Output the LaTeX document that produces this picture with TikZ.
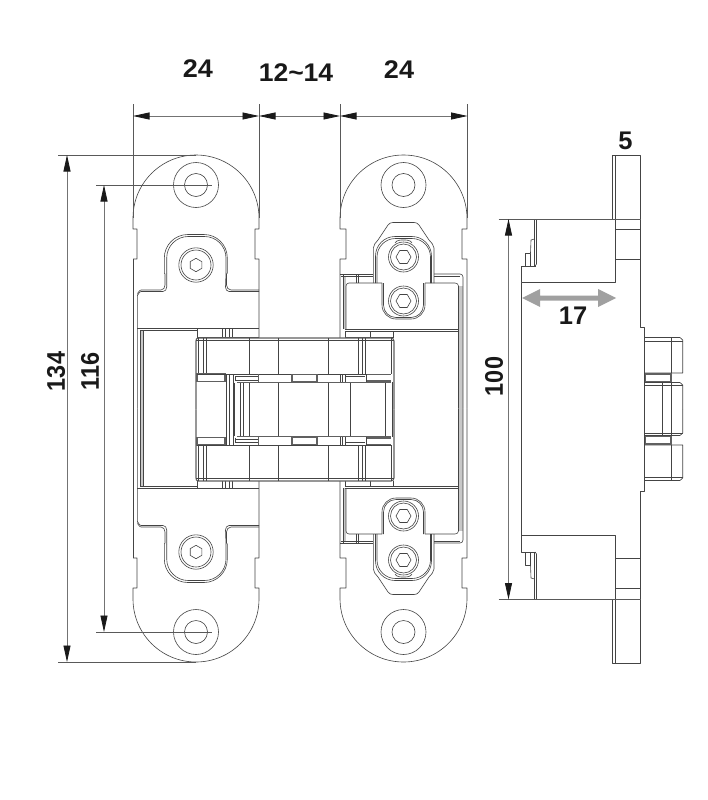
\documentclass[tikz,border=0pt]{standalone}
\usepackage{fontspec}
\setmainfont{Liberation Sans}
\usetikzlibrary{arrows.meta}
\definecolor{ink}{HTML}{444444}
\definecolor{arrowgray}{HTML}{A0A0A0}
\definecolor{strip}{HTML}{C8C8C8}
\tikzset{
  ln/.style={draw=ink,line width=0.6pt,line join=round},
  heavy/.style={draw=ink!85,line width=1.1pt},
  dimline/.style={draw=black!55,line width=0.8pt,{Triangle[length=16.5pt,width=7pt,color=black!90]}-{Triangle[length=16.5pt,width=7pt,color=black!90]}},
  ext/.style={draw=black!65,line width=0.7pt},
  dimtext/.style={font=\fontsize{25.5}{26}\selectfont\bfseries,text=black!90,inner sep=0pt},
  up/.style={x radius=#1,y radius=-#1}
}
% half of left plate (upper)
\newcommand{\leftHalf}{%
  \fill[strip] (140,330.5) rectangle (143,408.5);
  \draw[ln] (133,259) -- (133,408.5);
  \draw[ln] (133,259) -- (137,259) -- (137,229) -- (133,229) -- (133,218)
     arc[start angle=180,end angle=0,up=63] -- (259,229) -- (255,229) -- (255,259) -- (259,259) -- (259,338);
  \draw[ln] (196,185) circle[radius=22.5];
  \draw[ln] (196,185) circle[radius=11.5];
  \draw[ln] (164.3,273) -- (164.3,258) arc[start angle=180,end angle=90,up=23.5] -- (204,234.5) arc[start angle=90,end angle=0,up=23.3] -- (227.3,273);
  \draw[ln] (166.7,273) -- (166.7,258) arc[start angle=180,end angle=90,up=21.5] -- (204.5,236.5) arc[start angle=90,end angle=0,up=21.5] -- (226,273);
  \draw[ln] (164.3,273) -- (165,274) -- (165,285) to[out=-90,in=0] (161,290) -- (141,290);
  \draw[ln] (166.7,273) -- (166.7,287) to[out=-90,in=0] (163,291.5) -- (141,291.5) to[out=180,in=-90] (137.3,295) -- (137.3,408.5);
  \draw[ln] (141,290) to[out=180,in=-90] (137.3,293);
  \draw[ln] (227.3,273) -- (226.5,274) -- (226.5,285) to[out=-90,in=180] (231,290) -- (259,290);
  \draw[ln] (226,273) -- (225.5,287) to[out=-90,in=180] (229,291.5) -- (259,291.5);
  \draw[ln] (196,265) circle[radius=17.2];
  \draw[ln] (196,265) circle[radius=15];
  \draw[ln,shift={(196,265)}] (90:6.7) -- (150:6.7) -- (210:6.7) -- (270:6.7) -- (330:6.7) -- (30:6.7) -- cycle;
  \draw[ln] (137.3,328.5) -- (259,328.5);
  \draw[ln] (140,330.5) -- (197,330.5);
  \draw[ln] (143,330.5) -- (143,408.5);
  \draw[ln] (140,330.5) -- (140,408.5);
  \draw[ln] (197,329) -- (197,338);
  \draw[ln] (197,337) -- (259,337);
  \draw[ln] (222,329) -- (222,337);
  \draw[ln] (225.5,329) -- (225.5,337);
  \draw[ln] (229,329) -- (229,337);
  \draw[ln] (232,329) -- (232,337);
}
% half of right plate (upper)
\newcommand{\rightHalf}{%
  \fill[strip] (459,286) rectangle (463,408.5);
  \fill[strip] (343,276) rectangle (346,329);
  \draw[ln] (340,338) -- (340,259) -- (346,259) -- (346,229) -- (340,229) -- (340,218.5)
    arc[start angle=180,end angle=0,up=63.5] -- (467,229) -- (462,229) -- (462,259) -- (467,259) -- (467,408.5);
  \draw[ln] (403.5,185) circle[radius=22.5];
  \draw[ln] (403.5,185) circle[radius=11.5];
  % frame
  \draw[ln] (340,274) -- (373,274);
  \draw[ln] (434,274) -- (460,274) to[out=0,in=90] (463,277) -- (463,408.5);
  \draw[ln] (341,276) -- (373,276);
  \draw[ln] (434,276) -- (460,276);
  \draw[ln] (346,329) -- (346,286) to[out=90,in=180] (349,283) -- (382,283);
  \draw[ln] (425,283) -- (455,283) to[out=0,in=90] (458.5,286) -- (458.5,408.5);
  \draw[ln] (343,274) -- (343,329);
  \draw[ln] (356,274) -- (356,283);
  \draw[ln] (358.5,274) -- (358.5,283);
  \draw[ln] (345,329) -- (458,329);
  \draw[ln] (345,331) -- (458,331);
  \draw[ln] (345,331) -- (345,338);
  \draw[ln] (370,331) -- (370,338);
  \draw[ln] (345,337) -- (393,337);
  \draw[ln] (393,331) -- (393,338);
  % slotted cover
  \draw[ln] (373.3,283) -- (373.3,248) to[out=90,in=-125] (378,240) -- (388,225) to[out=55,in=180] (393,222.5) -- (414,222.5) to[out=0,in=125] (419,225) -- (429,240) to[out=-55,in=90] (434,248) -- (434,283);
  \draw[ln] (375.5,283) -- (375.5,256) arc[start angle=180,end angle=90,up=19.5] -- (412,236.5) arc[start angle=90,end angle=0,up=19.5] -- (431.5,283);
  \draw[ln] (377,283) -- (377,257) arc[start angle=180,end angle=90,up=18.5] -- (412,238.5) arc[start angle=90,end angle=0,up=18.5] -- (430.5,283);
  \draw[ln] (382,283) -- (382,305) arc[start angle=180,end angle=270,up=14] -- (411,319) arc[start angle=270,end angle=360,up=14] -- (425,283);
  \draw[ln] (383.5,283) -- (383.5,305) arc[start angle=180,end angle=270,up=12.5] -- (411,317.5) arc[start angle=270,end angle=360,up=12.5] -- (423.5,283);
  % screws
  \foreach \sy in {257,301}{
    \draw[ln,fill=white] (403.5,\sy) circle[radius=15];
    \draw[ln] (403.5,\sy) circle[radius=13];
    \draw[ln,shift={(403.5,\sy)}] (0:7.5) -- (60:7.5) -- (120:7.5) -- (180:7.5) -- (240:7.5) -- (300:7.5) -- cycle;
  }
  \draw[ln] (395,243) to[out=60,in=180] (403.5,240) to[out=0,in=120] (412,243);
}
% half of central mechanism (upper), mirrored about y=409.5
\newcommand{\mechHalf}{%
  \draw[heavy] (198,338) -- (391,338) to[out=0,in=90] (394,341) -- (394,409.5);
  \draw[heavy] (198,338) to[out=180,in=90] (196,341) -- (196,409.5);
  \draw[ln] (196,340.5) -- (394,340.5);
  \foreach \vx in {198,203,206,249,278,328,358,362,365}{\draw[ln] (\vx,338) -- (\vx,374);}
  \draw[ln] (391,338) -- (391,374);
  % row under the top band
  \draw[heavy] (197,374) rectangle (225,381.5);
  \draw[ln] (197,374) -- (391,374);
  \draw[ln] (226,374) -- (226,409.5);
  \draw[ln] (233,374) -- (233,409.5);
  \draw[ln] (229,374) -- (229,409.5);
  \draw[ln] (235,381) -- (235,376);
  \draw[ln] (235,376.5) -- (258,376.5);
  \draw[heavy] (258.5,374) -- (258.5,382);
  \draw[ln] (235,380) -- (258,380);
  \draw[heavy] (292,374.5) rectangle (317,381.5);
  \draw[ln] (340,374) -- (340,382);
  \draw[ln] (342,374) -- (342,382);
  \draw[ln] (345,374) -- (345,382);
  \draw[ln] (345,376.5) -- (365,376.5);
  \draw[heavy] (366,374.5) -- (391,374.5);
  \draw[heavy] (366,381) -- (391,381);
  \draw[ln] (366,374) -- (366,382);
  % centre block
  \draw[heavy] (237,382.5) -- (391,382.5);
  \draw[ln] (234,383) -- (234,409.5);
  \draw[ln] (392,382) -- (392,409.5);
  \foreach \vx in {240,243,249,278,328,350,385}{\draw[ln] (\vx,383) -- (\vx,409.5);}
}
% half of side view (upper)
\newcommand{\sideHalf}{%
  \draw[ln] (612.5,219) -- (612.5,155) -- (640.5,155) -- (640.5,327) -- (644.5,327) -- (644.5,337);
  \draw[ln] (615,155) -- (615,219);
  \draw[ln] (615,219) -- (615,282.5) -- (521.5,282.5) -- (521.5,266) -- (536,266);
  \draw[ln] (534.5,219) -- (534.5,266);
  \draw[ln] (536.5,219) -- (536.5,264) -- (535,266);
  \draw[ln] (525.5,265.5) -- (525.5,253) -- (530.5,253) -- (530.5,265.5);
  \draw[ln] (530.5,253) -- (531,240) -- (534.5,239);
  \draw[ln] (521.5,282.5) -- (521.5,409);
  \draw[ln] (615,229.5) -- (640.5,229.5);
  \draw[ln] (615,259.5) -- (640.5,259.5);
  \draw[ln] (644.5,337) -- (644.5,409);
  \draw[ln] (644.5,337.5) -- (680,337.5) -- (682.7,340) -- (682.7,373) -- (644.5,373);
  \draw[ln] (644.5,341) -- (682.7,341);
  \draw[ln] (671,337.5) -- (671,373);
  \draw[heavy] (645.5,374) rectangle (671,381.5);
  \draw[ln] (644.5,382.5) -- (680,382.5) -- (682.7,385) -- (682.7,409);
  \draw[ln] (644.5,385) -- (682.7,385);
  \draw[ln] (662,382.5) -- (662,409);
  \draw[ln] (671,382.5) -- (671,409);
}
\begin{document}
\begin{tikzpicture}[x=1pt,y=-1pt]
\useasboundingbox (0,0) rectangle (707,800);
\fill[white] (0,0) rectangle (707,800);
% left plate
\leftHalf
\begin{scope}[cm={1,0,0,-1,(0,817)}]\leftHalf\end{scope}
% right plate
\rightHalf
\begin{scope}[cm={1,0,0,-1,(0,817)}]\rightHalf\end{scope}
% mechanism
\fill[white] (196,338) rectangle (394,481);
\mechHalf
\begin{scope}[cm={1,0,0,-1,(0,819)}]\mechHalf\end{scope}
% side view
\sideHalf
\begin{scope}[cm={1,0,0,-1,(0,818)}]\sideHalf\end{scope}
% dimension anchors
\coordinate (wA) at (133,116);
\coordinate (wB) at (259,116);
\coordinate (wC) at (340,116);
\coordinate (wD) at (467.5,116);
\coordinate (wAt) at (133,104);
\coordinate (wBt) at (259,104);
\coordinate (wCt) at (340,104);
\coordinate (wDt) at (467.5,104);
\coordinate (wAb) at (133,218);
\coordinate (wBb) at (259,218);
\coordinate (wCb) at (340,218);
\coordinate (wDb) at (467.5,218);
\draw[ext] (wAt) -- (wAb);
\draw[ext] (wBt) -- (wBb);
\draw[ext] (wCt) -- (wCb);
\draw[ext] (wDt) -- (wDb);
\draw[dimline] (wA) -- (wB);
\draw[dimline] (wB) -- (wC);
\draw[dimline] (wC) -- (wD);
\coordinate (hT) at (67,155);
\coordinate (hB) at (67,662);
\coordinate (hTl) at (58,155);
\coordinate (hBl) at (58,662);
\coordinate (hTr) at (196,155);
\coordinate (hBr) at (196,662);
\draw[ext] (hTl) -- (hTr);
\draw[ext] (hBl) -- (hBr);
\draw[dimline] (hT) -- (hB);
\coordinate (iT) at (104,185);
\coordinate (iB) at (104,632);
\coordinate (iTl) at (96,185);
\coordinate (iBl) at (96,632);
\coordinate (iTr) at (212,185);
\coordinate (iBr) at (212,632);
\draw[ext] (iTl) -- (iTr);
\draw[ext] (iBl) -- (iBr);
\draw[dimline] (iT) -- (iB);
\coordinate (sT) at (508.5,219);
\coordinate (sB) at (508.5,599.5);
\coordinate (sTl) at (498.5,219);
\coordinate (sBl) at (498.5,599.5);
\coordinate (sTr) at (640.5,219);
\coordinate (sBr) at (640.5,599.5);
\draw[ext] (sTl) -- (sTr);
\draw[ext] (sBl) -- (sBr);
\draw[dimline] (sT) -- (sB);
% grey double arrow
\fill[arrowgray] (522,298) -- (540,289) -- (540,295.5) -- (598,295.5) -- (598,289) -- (616,298) -- (598,307) -- (598,300.5) -- (540,300.5) -- (540,307) -- cycle;
% labels
\node[dimtext] (t24a) at (198,69) {\scalebox{1.06}[1]{24}};
\node[dimtext] (t12) at (296,73) {\scalebox{1.04}[1]{12\string~14}};
\node[dimtext] (t24b) at (399,70) {\scalebox{1.06}[1]{24}};
\node[dimtext] (t5) at (625.5,141) {5};
\node[dimtext] (t17) at (573,316) {17};
\node[dimtext,rotate=90] (t134) at (56,371.5) {\scalebox{0.92}[1]{134}};
\node[dimtext,rotate=90] (t116) at (90,371.5) {\scalebox{0.92}[1]{116}};
\node[dimtext,rotate=90] (t100) at (494,376.5) {\scalebox{0.92}[1]{100}};
\end{tikzpicture}
\end{document}
